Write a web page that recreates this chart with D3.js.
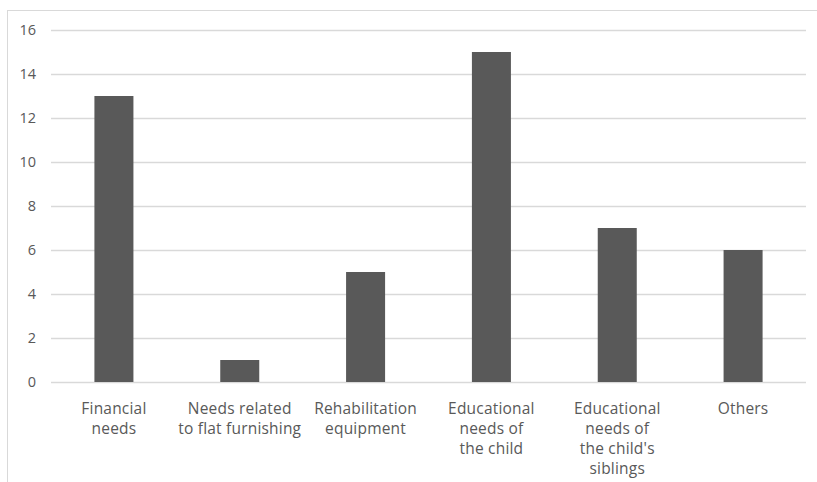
<!DOCTYPE html>
<html>
<head>
<meta charset="utf-8">
<script src="https://cdn.jsdelivr.net/npm/d3@7"></script>
<style>
  html, body { margin: 0; padding: 0; background: #ffffff; }
  svg { display: block; }
</style>
</head>
<body>
<svg id="chart" width="817" height="482"></svg>
<script>
// Categories (each entry is the list of wrapped label lines)
const categories = [
  ["Financial", "needs"],
  ["Needs related", "to flat furnishing"],
  ["Rehabilitation", "equipment"],
  ["Educational", "needs of", "the child"],
  ["Educational", "needs of", "the child's", "siblings"],
  ["Others"]
];
const values = [13, 1, 5, 15, 7, 6];
const yTicks = [0, 2, 4, 6, 8, 10, 12, 14, 16];

const svg = d3.select("#chart");
const W = 817, H = 482;
const margin = { left: 51, right: 11, top: 30, bottom: 100 };
const plotW = W - margin.left - margin.right;
const plotH = H - margin.top - margin.bottom;
const FONT = "'Open Sans', 'Noto Sans', sans-serif";
const TEXT = "#595959";
const GRID = "#d9d9d9";

// Outer chart frame (left and top edges show inside the page)
svg.append("rect")
  .attr("x", 7.5).attr("y", 10.5)
  .attr("width", W + 20).attr("height", H + 20)
  .attr("fill", "none").attr("stroke", GRID).attr("stroke-width", 1);

const keys = categories.map((c, i) => i);
const x = d3.scaleBand().domain(keys).range([0, plotW]).paddingInner(0.69).paddingOuter(0.345);
const y = d3.scaleLinear().domain([0, 16]).range([plotH, 0]);

const g = svg.append("g").attr("transform", `translate(${margin.left},${margin.top})`);

// Horizontal gridlines and tick labels via a left axis
const yAxis = d3.axisLeft(y).tickValues(yTicks).tickSize(-plotW).tickPadding(15);
const ya = g.append("g").call(yAxis);
ya.select(".domain").remove();
ya.selectAll(".tick line").attr("stroke", GRID).attr("stroke-width", 1.3);
ya.selectAll(".tick text")
  .attr("fill", TEXT).attr("font-family", FONT).attr("font-size", 14.5);

// Bars
g.selectAll("rect.bar")
  .data(values)
  .join("rect")
  .attr("class", "bar")
  .attr("x", (d, i) => x(i))
  .attr("y", d => y(d))
  .attr("width", x.bandwidth())
  .attr("height", d => y(0) - y(d))
  .attr("fill", "#595959");

// Category labels (multi-line, centered under each bar)
const lab = g.append("g").attr("transform", `translate(0,${plotH})`);
categories.forEach((lines, i) => {
  const t = lab.append("text")
    .attr("x", x(i) + x.bandwidth() / 2)
    .attr("y", 32)
    .attr("text-anchor", "middle")
    .attr("fill", TEXT)
    .attr("font-family", FONT)
    .attr("font-size", 15.5)
    .attr("letter-spacing", 0.2);
  lines.forEach((ln, k) => {
    t.append("tspan")
      .attr("x", x(i) + x.bandwidth() / 2)
      .attr("dy", k === 0 ? 0 : 20)
      .text(ln);
  });
});
</script>
</body>
</html>
